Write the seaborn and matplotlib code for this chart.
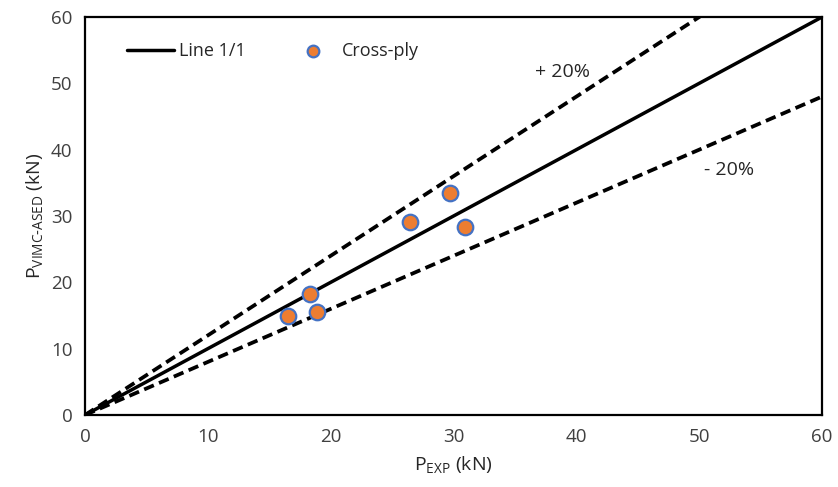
import matplotlib
matplotlib.use("Agg")
import matplotlib.pyplot as plt
import seaborn as sns
import pandas as pd

p_exp = [16.5, 18.3, 18.9, 26.5, 29.7, 30.9]
p_vimc = [14.9, 18.3, 15.5, 29.1, 33.4, 28.4]

# Reference lines (end points)
line_x = [0, 60]
line_1to1 = [0, 60]
line_plus20 = [0, 72]
line_minus20 = [0, 48]

sns.set_style("white")
plt.rcParams['font.family'] = ['Open Sans', 'DejaVu Sans']

fig = plt.figure(figsize=(8.38, 4.87), dpi=100)
ax = fig.add_axes([0.1014, 0.1478, 0.8795, 0.8172])

sns.lineplot(x=line_x, y=line_1to1, ax=ax, color='black', lw=2.5, label='Line 1/1')
sns.lineplot(x=line_x, y=line_plus20, ax=ax, color='black', lw=2.7, label='_nolegend_')
sns.lineplot(x=line_x, y=line_minus20, ax=ax, color='black', lw=2.7, label='_nolegend_')
for l in ax.lines[1:]:
    l.set_linestyle((0, (2.8, 1.5)))

df = pd.DataFrame({'exp': p_exp, 'vimc': p_vimc})
sns.scatterplot(data=df, x='exp', y='vimc', ax=ax, s=125, color='#ED7D31',
                edgecolor='#4472C4', linewidth=1.6, label='Cross-ply', zorder=5)

ax.text(38.9, 51.7, '+ 20%', fontsize=14, ha='center', va='center', color='#262626')
ax.text(52.4, 37.0, '- 20%', fontsize=14, ha='center', va='center', color='#262626')

ax.set_xlim(0, 60)
ax.set_ylim(0, 60)
ax.set_xticks(range(0, 61, 10))
ax.set_yticks(range(0, 61, 10))
ax.tick_params(labelsize=13.5, colors='#404040', length=0, pad=9)
ax.set_xlabel(r'$\mathregular{P_{EXP}}$ (kN)', fontsize=14, color='#262626', labelpad=6)
ax.set_ylabel(r'$\mathregular{P_{VIMC\text{-}ASED}}$ (kN)', fontsize=14, color='#262626', labelpad=4)
for s in ax.spines.values():
    s.set_color('black')
    s.set_linewidth(1.6)

ax.legend(loc='upper left', ncol=2, frameon=False, fontsize=13, markerscale=0.75,
          bbox_to_anchor=(0.035, 0.978), handlelength=2.6, handletextpad=0.3,
          columnspacing=2.4)

fig.savefig('out.png', dpi=100)
